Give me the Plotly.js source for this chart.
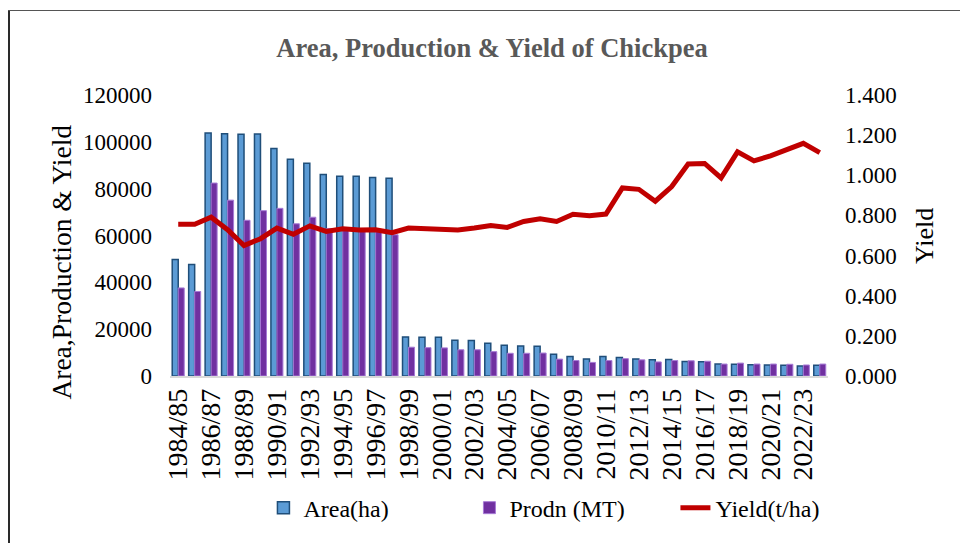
<!DOCTYPE html>
<html>
<head>
<meta charset="utf-8">
<script src="https://cdn.plot.ly/plotly-3.0.1.min.js"></script>
<style>
  html, body { margin: 0; padding: 0; background: #fff; }
  #wrap { position: relative; width: 960px; height: 543px; overflow: hidden; }
  #chart { position: absolute; left: 0; top: 0; width: 960px; height: 543px; }
  #frameL { position: absolute; left: 8px; top: 10px; width: 2px; height: 540px; background: #2a2a2a; }
  #frameT { position: absolute; left: 8px; top: 10px; width: 960px; height: 1px; background: #555; }
</style>
</head>
<body>
<div id="wrap">
  <div id="chart"></div>
  <div id="frameL"></div>
  <div id="frameT"></div>
</div>
<script>
const categories = ["1984/85","1985/86","1986/87","1987/88","1988/89","1989/90","1990/91","1991/92","1992/93","1993/94",
  "1994/95","1995/96","1996/97","1997/98","1998/99","1999/00","2000/01","2001/02","2002/03","2003/04",
  "2004/05","2005/06","2006/07","2007/08","2008/09","2009/10","2010/11","2011/12","2012/13","2013/14",
  "2014/15","2015/16","2016/17","2017/18","2018/19","2019/20","2020/21","2021/22","2022/23","2023/24"];

const areaHa = [49800,47600,103800,103500,103200,103300,97100,92600,90900,86000,
  85300,85300,84800,84400,16700,16600,16500,15300,15200,14000,
  13100,12800,12700,9300,8300,7300,8300,7900,7300,6900,
  7000,6200,6100,5100,5000,4800,4700,4600,4300,4600];

const prodnMT = [37600,36100,82400,75100,66500,70600,71600,65000,67800,63000,
  62500,63000,62000,60300,12300,12100,12000,11200,11200,10400,
  9700,9700,9800,7200,6600,5800,6600,7400,6900,6000,
  6600,6500,6300,5100,5500,5100,5100,5000,4700,5100];

const yieldTHa = [0.756,0.756,0.791,0.729,0.650,0.684,0.737,0.706,0.748,0.720,
  0.733,0.727,0.729,0.714,0.737,0.732,0.730,0.727,0.737,0.750,
  0.740,0.770,0.783,0.770,0.806,0.799,0.807,0.937,0.930,0.871,
  0.944,1.056,1.059,0.987,1.117,1.072,1.097,1.125,1.159,1.113];

const leftTitle = "Area,Production & Yield";
const rightTitle = "Yield";

const FONT = "Liberation Serif, Times New Roman, serif";

const traces = [
  { type: "bar", name: "Area(ha)", x: categories, y: areaHa,
    marker: { color: "#5B9BD5", line: { color: "#1F4E79", width: 1.5 } } },
  { type: "bar", name: "Prodn (MT)", x: categories, y: prodnMT,
    marker: { color: "#7030A0", line: { color: "#A77BD6", width: 1 } } },
  { type: "scatter", mode: "lines", name: "Yield(t/ha)", x: categories, y: yieldTHa, yaxis: "y2",
    line: { color: "#C00000", width: 5 } }
];

const layout = {
  width: 960, height: 543,
  paper_bgcolor: "rgba(0,0,0,0)", plot_bgcolor: "rgba(0,0,0,0)",
  margin: { l: 170, r: 132, t: 95, b: 163 },
  font: { family: FONT, color: "#000", size: 22 },
  title: { text: "<b>Area, Production & Yield of Chickpea</b>", x: 0.5125, xanchor: "center",
           y: 0.913, yanchor: "middle", font: { family: FONT, size: 26.5, color: "#595959" } },
  barmode: "group", bargap: 0.27, bargroupgap: 0,
  showlegend: true,
  legend: { orientation: "h", x: 0.142, xanchor: "left", y: -0.47, yanchor: "middle",
            font: { family: FONT, size: 24, color: "#000" }, entrywidth: 161, traceorder: "normal" },
  xaxis: { type: "category", tickmode: "linear", tick0: 0, dtick: 2, tickangle: -90,
           tickfont: { family: FONT, size: 28 }, showgrid: false, showline: true,
           linecolor: "#d9d9d9", linewidth: 1.5, ticks: "", zeroline: false },
  yaxis: { range: [0, 120000], dtick: 20000, tickformat: "d", showgrid: false, zeroline: false, ticks: "",
           tickfont: { family: FONT, size: 23 }, ticklabelstandoff: 17 },
  yaxis2: { range: [0, 1.4], dtick: 0.2, tickformat: ".3f", overlaying: "y", side: "right",
            showgrid: false, zeroline: false, ticks: "", tickfont: { family: FONT, size: 23 },
            ticklabelstandoff: 16 },
  annotations: [
    { text: leftTitle, xref: "paper", yref: "paper", x: (62 - 170) / 658, y: (380 - 265) / 285,
      xanchor: "center", yanchor: "middle", textangle: -90, showarrow: false,
      font: { family: FONT, size: 27.5, color: "#000" } },
    { text: rightTitle, xref: "paper", yref: "paper", x: (925 - 170) / 658, y: (380 - 238) / 285,
      xanchor: "center", yanchor: "middle", textangle: -90, showarrow: false,
      font: { family: FONT, size: 26, color: "#000" } }
  ]
};

Plotly.newPlot("chart", traces, layout, { displayModeBar: false, staticPlot: true });
</script>
</body>
</html>
